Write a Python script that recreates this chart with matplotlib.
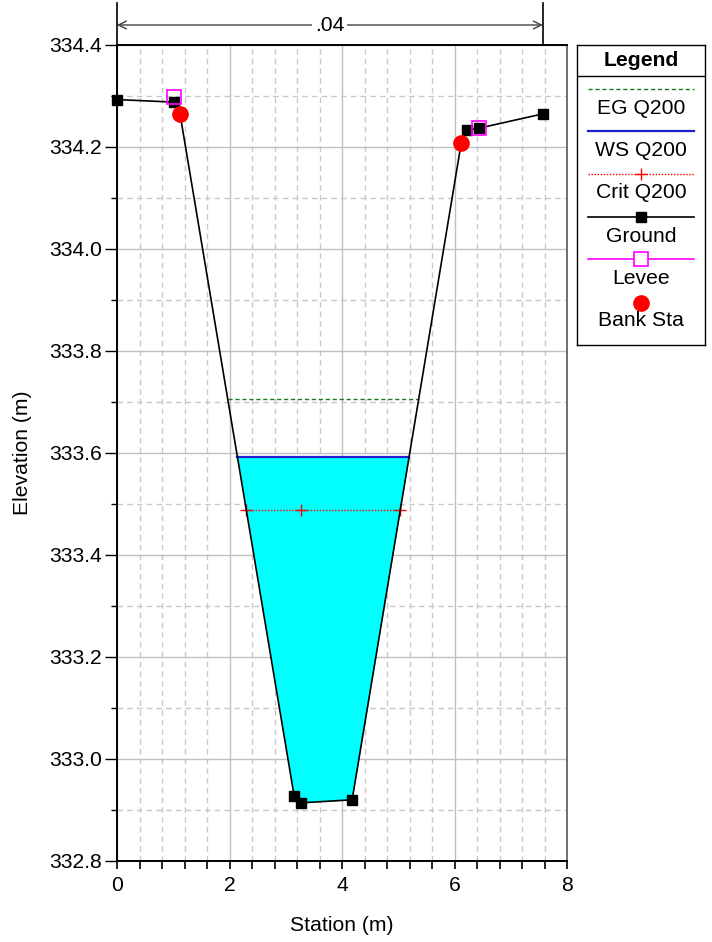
import numpy as np
import matplotlib
matplotlib.use("Agg")
import matplotlib.pyplot as plt
from matplotlib.ticker import MultipleLocator, FormatStrFormatter

plt.rcParams['font.family'] = ['Liberation Sans', 'DejaVu Sans']

# ---------------- data ----------------
ground_x = [0.0, 1.01, 1.12, 3.15, 3.27, 4.18, 6.12, 6.22, 6.44, 7.57]
ground_y = [334.293, 334.288, 334.265, 332.927, 332.914, 332.920, 334.208, 334.233, 334.237, 334.265]
levee_x = [1.01, 6.44]
levee_y = [334.298, 334.237]
bank_x = [1.12, 6.12]
bank_y = [334.265, 334.208]
eg_elev = 333.705
ws_elev = 333.592
crit_elev = 333.489
crit_mid_x = [3.27]
mann_n_label = ".04"
mann_n_range = [0.0, 7.57]
legend_labels = ["EG Q200", "WS Q200", "Crit Q200", "Ground", "Levee", "Bank Sta"]

gx = np.array(ground_x)
gy = np.array(ground_y)
FS = 15.2


def crossings(level):
    pts = []
    for i in range(len(gx) - 1):
        y0, y1 = gy[i], gy[i + 1]
        if (y0 - level) * (y1 - level) < 0:
            t = (level - y0) / (y1 - y0)
            pts.append(gx[i] + t * (gx[i + 1] - gx[i]))
    return pts[0], pts[-1]


W, H = 712, 942
fig = plt.figure(figsize=(W / 100, H / 100), dpi=100)
ax = fig.add_axes([117 / W, 1 - 861 / H, 450 / W, 816 / H])

ax.set_xlim(0, 8)
ax.set_ylim(332.8, 334.4)

# grid
ax.xaxis.set_major_locator(MultipleLocator(2))
ax.xaxis.set_minor_locator(MultipleLocator(0.4))
ax.yaxis.set_major_locator(MultipleLocator(0.2))
ax.yaxis.set_minor_locator(MultipleLocator(0.1))
ax.yaxis.set_major_formatter(FormatStrFormatter('%.1f'))
ax.grid(which='major', color='#c0c0c0', linestyle='-', linewidth=1.0)
ax.grid(which='minor', color='#c8c8c8', linestyle=(0, (4, 3)), linewidth=1.0)
ax.set_axisbelow(True)
ax.tick_params(axis='x', which='major', direction='out', length=6, width=1.2, labelsize=FS, pad=5)
ax.tick_params(axis='x', which='minor', direction='out', length=6, width=1.2)
ax.tick_params(axis='y', which='major', direction='out', length=9, width=1.0, labelsize=FS, pad=2)
ax.tick_params(axis='y', which='minor', direction='out', length=4, width=1.0)
for s in ['left', 'bottom', 'top']:
    ax.spines[s].set_linewidth(1.4)
    ax.spines[s].set_color('black')
ax.spines['right'].set_color('#707070')
ax.spines['right'].set_linewidth(1.4)

# water fill
ax.fill_between(gx, gy, ws_elev, where=gy <= ws_elev, interpolate=True,
                color='#00ffff', linewidth=0, zorder=2)

# EG
ex0, ex1 = crossings(eg_elev)
ax.plot([ex0, ex1], [eg_elev, eg_elev], color='#1f7a1f', linestyle=(0, (3, 2)), linewidth=1.0, zorder=3)
# WS
wx0, wx1 = crossings(ws_elev)
ax.plot([wx0, wx1], [ws_elev, ws_elev], color='#2020d0', linewidth=1.6, zorder=3)
# Crit
cx0, cx1 = crossings(crit_elev)
ax.plot([cx0, cx1], [crit_elev, crit_elev], color='red', linestyle=(0, (1, 1.2)), linewidth=1.0, zorder=3)
ax.plot([cx0] + crit_mid_x + [cx1], [crit_elev] * 3, linestyle='none', marker='+',
        color='red', markersize=9, markeredgewidth=1.0, zorder=3)

# ground
ax.plot(gx, gy, color='black', linewidth=1.2, marker='s', markersize=6.5, zorder=4, clip_on=False)
# levee
ax.plot(levee_x, levee_y, linestyle='none', marker='s', markersize=10, markerfacecolor='none',
        markeredgecolor='magenta', markeredgewidth=1.2, zorder=5, clip_on=False)
# bank
ax.plot(bank_x, bank_y, linestyle='none', marker='o', markersize=11, color='red', zorder=5, clip_on=False)

ax.set_xlabel('Station (m)', fontsize=FS, labelpad=15)
ax.set_ylabel('Elevation (m)', fontsize=FS, labelpad=12)

# manning's n annotation above axes
trans = ax.get_xaxis_transform()
for xv in mann_n_range:
    ax.plot([xv, xv], [1.0, 1.052], transform=trans, color='black', linewidth=1.2, clip_on=False)
ymid = 1.0 + 20 / 816
ax.annotate('', xy=(mann_n_range[0], ymid), xytext=(mann_n_range[1], ymid), xycoords=trans,
            textcoords=trans, arrowprops=dict(arrowstyle='<->', color='#404040', lw=1.0,
                                              shrinkA=0, shrinkB=0, mutation_scale=14))
ax.text(sum(mann_n_range) / 2, ymid, mann_n_label, transform=trans, ha='center', va='center',
        fontsize=FS, bbox=dict(facecolor='white', edgecolor='none', pad=2), clip_on=False)

# legend box
lax = fig.add_axes([577 / W, 1 - 345 / H, 128 / W, 300 / H])
lax.set_xlim(577, 705)
lax.set_ylim(345, 45)
lax.set_xticks([])
lax.set_yticks([])
for s in lax.spines.values():
    s.set_linewidth(1.0)
    s.set_color('black')
lax.text(641, 60, 'Legend', ha='center', va='center', fontsize=FS, fontweight='bold')
lax.plot([577, 705], [75.7, 75.7], color='black', linewidth=1.0)

lx0, lx1, lxm = 588, 694, 641
line_y = [89, 131, 174, 217, 259, 303]
text_y = [108, 150, 193, 236, 278, 321]
lax.plot([lx0, lx1], [line_y[0]] * 2, color='#1f7a1f', linestyle=(0, (3, 2)), linewidth=1.0)
lax.plot([lx0, lx1], [line_y[1]] * 2, color='#2020d0', linewidth=1.6)
lax.plot([lx0, lx1], [line_y[2]] * 2, color='red', linestyle=(0, (1, 1.2)), linewidth=1.0)
lax.plot([lxm], [line_y[2]], marker='+', color='red', markersize=9, markeredgewidth=1.0)
lax.plot([lx0, lx1], [line_y[3]] * 2, color='black', linewidth=1.2)
lax.plot([lxm], [line_y[3]], marker='s', color='black', markersize=6.5)
lax.plot([lx0, lx1], [line_y[4]] * 2, color='magenta', linewidth=1.2)
lax.plot([lxm], [line_y[4]], marker='s', markersize=10, markerfacecolor='white',
         markeredgecolor='magenta', markeredgewidth=1.2)
lax.plot([lxm], [line_y[5]], marker='o', markersize=11, color='red')
for lab, ty in zip(legend_labels, text_y):
    lax.text(lxm, ty, lab, ha='center', va='center', fontsize=FS)

fig.savefig('out.png', dpi=100)
